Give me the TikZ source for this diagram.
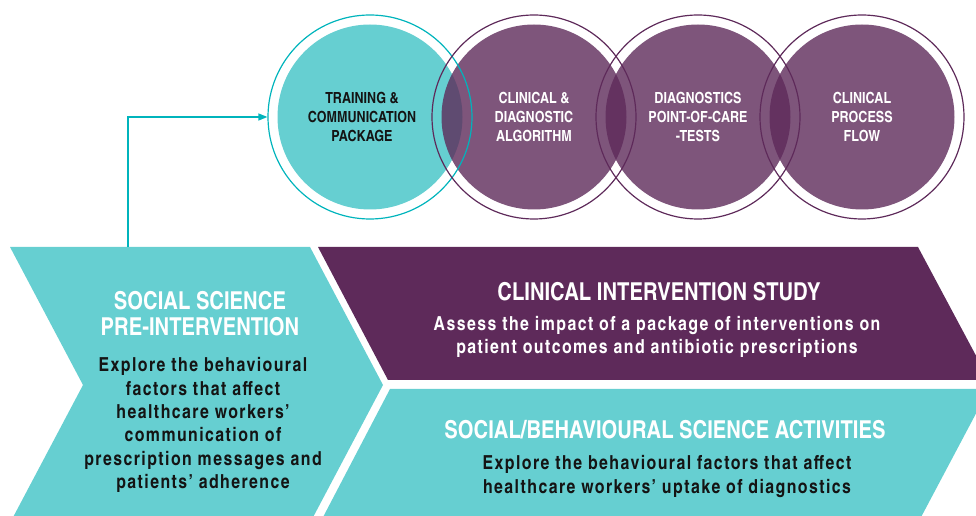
\documentclass[tikz,border=0pt]{standalone}
\usepackage{fontspec}
\setmainfont{texgyreheroscn-regular.otf}[BoldFont=texgyreheroscn-bold.otf]
\newfontfamily\trackedbold{texgyreheroscn-bold.otf}[LetterSpace=7.5]
\usetikzlibrary{arrows.meta}

\definecolor{tealfill}{RGB}{102,207,209}
\definecolor{tealline}{RGB}{0,180,188}
\definecolor{plum}{RGB}{94,42,90}
\definecolor{inkblack}{RGB}{20,20,20}

\tikzset{every picture/.style={line width=0.75pt}}
\tikzset{
  disk/.style={circle, minimum size=138.75pt, inner sep=0pt, align=center, font=\bfseries\fontsize{11.5}{14.6}\selectfont},
  tealdisk/.style={disk, fill=tealfill, text=inkblack},
  plumdisk/.style={disk, fill=plum, fill opacity=0.8, text opacity=1, text=white},
  ring/.style={circle, minimum size=153pt, inner sep=0pt, line width=0.9pt},
  heading/.style={align=center, text=white, font=\bfseries\fontsize{18.5}{19.5}\selectfont},
  bodytext/.style={align=center, font=\trackedbold\fontsize{14.5}{17.5}\selectfont},
}

\begin{document}
\begin{tikzpicture}[x=0.75pt,y=0.75pt,yscale=-1,xscale=1]
\useasboundingbox (0,0) rectangle (976,516);
\clip (0,0) rectangle (976,516);

%Shape: Chevron [pre-intervention]
\fill [tealfill] (10,247) -- (310,247) -- (383,385) -- (310,523) -- (10,523) -- (83,385) -- cycle ;
%Shape: Chevron [clinical study]
\fill [plum] (318,247) -- (918,247) -- (989,380) -- (388,380) -- cycle ;
%Shape: Chevron [social activities]
\fill [tealfill] (390,389) -- (989,389) -- (919,521) -- (321,521) -- cycle ;

%Shape: Circles
\node [tealdisk] (training) at (370,117) {};
\node [plumdisk] (algorithm) at (534,117) {CLINICAL \&\\DIAGNOSTIC\\ALGORITHM};
\node [plumdisk] (poct) at (698,117) {DIAGNOSTICS\\POINT-OF-CARE\\-TESTS};
\node [plumdisk] (flow) at (862,117) {CLINICAL\\PROCESS\\FLOW};
% Text Node
\node [disk, minimum size=0pt, text=inkblack] (traininglabel) at (362,117) {TRAINING \&\\COMMUNICATION\\PACKAGE};
%Shape: Rings
\node [ring, draw=tealline] (trainingring) at (training) {};
\node [ring, draw=plum] (algorithmring) at (algorithm) {};
\node [ring, draw=plum] (poctring) at (poct) {};
\node [ring, draw=plum] (flowring) at (flow) {};

%Straight Lines [to training package]
\coordinate (prestart) at (128,247);
\draw [tealline, line width=1pt, -{Triangle[length=6.75pt,width=5.25pt]}] (prestart) |- (trainingring.west);

% Text Node
\node [heading] (preheading) at (200,314) {SOCIAL SCIENCE\\PRE-INTERVENTION};
% Text Node
\node [bodytext, text=inkblack] (prebody) at (203,425) {Explore the behavioural\\factors that affect\\healthcare workers’\\communication of\\prescription messages and\\patients’ adherence};
% Text Node
\node [heading] (clinheading) at (659,292) {CLINICAL INTERVENTION STUDY};
% Text Node
\node [bodytext, text=white] (clinbody) at (657,337) {Assess the impact of a package of interventions on\\patient outcomes and antibiotic prescriptions};
% Text Node
\node [heading] (socheading) at (665,430) {SOCIAL/BEHAVIOURAL SCIENCE ACTIVITIES};
% Text Node
\node [bodytext, text=inkblack] (socbody) at (667,476.5) {Explore the behavioural factors that affect\\healthcare workers’ uptake of diagnostics};

\end{tikzpicture}
\end{document}
